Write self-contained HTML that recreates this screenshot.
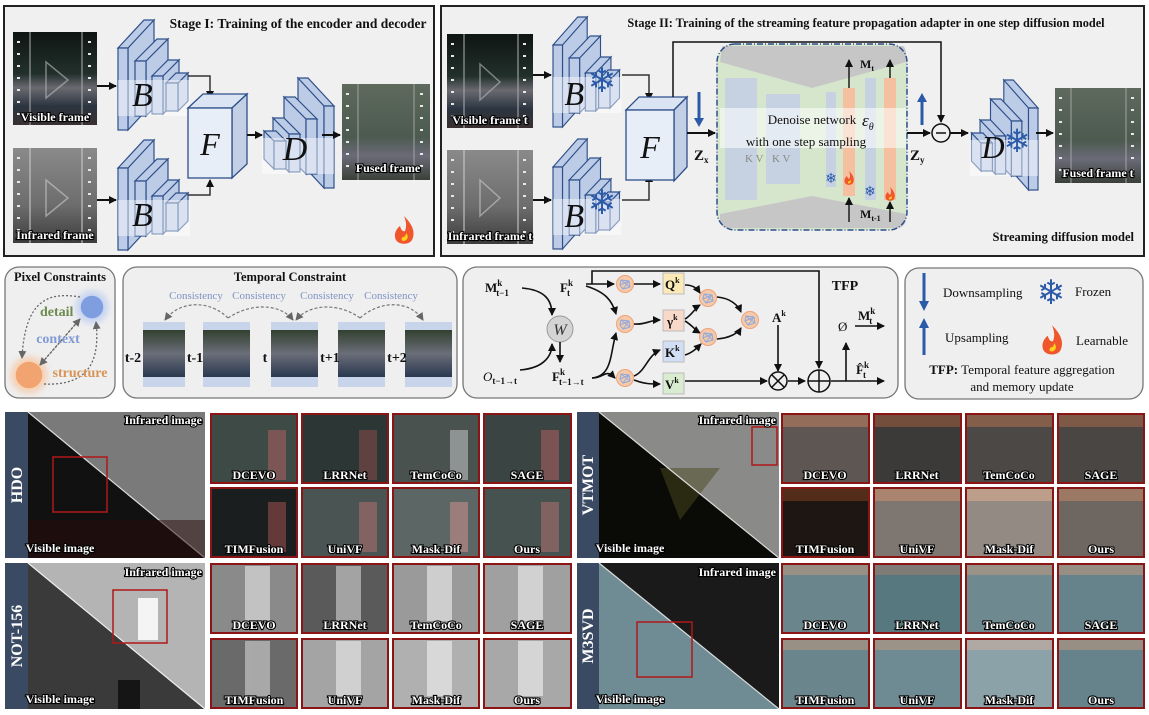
<!DOCTYPE html>
<html><head><meta charset="utf-8"><style>
html,body{margin:0;padding:0;background:#fff;}
svg{display:block;}
text{font-family:"Liberation Serif",serif;}
.t{font-weight:bold;fill:#111;}
.lbl{font-family:"Liberation Serif",serif;font-weight:bold;fill:#fff;stroke:#000;stroke-width:2.2px;paint-order:stroke;font-size:12px;text-anchor:middle;}
.lr{text-anchor:end;}
.bar{font-family:"Liberation Serif",serif;font-weight:bold;fill:#fff;font-size:16px;text-anchor:middle;}
</style></head><body>
<svg width="1149" height="715" viewBox="0 0 1149 715" xmlns="http://www.w3.org/2000/svg">
<defs>
<marker id="ah" markerWidth="8" markerHeight="8" refX="7" refY="4" orient="auto" markerUnits="userSpaceOnUse"><path d="M0,0 L8,4 L0,8 z" fill="#111"/></marker>
<marker id="ahg" markerWidth="8" markerHeight="8" refX="7" refY="4" orient="auto" markerUnits="userSpaceOnUse"><path d="M0,0 L8,4 L0,8 z" fill="#666"/></marker>
<linearGradient id="vis" x1="0" y1="0" x2="0" y2="1"><stop offset="0" stop-color="#0e1512"/><stop offset="0.45" stop-color="#22302c"/><stop offset="0.6" stop-color="#6a6a70"/><stop offset="0.8" stop-color="#2a3440"/><stop offset="1" stop-color="#3a3030"/></linearGradient>
<linearGradient id="ir" x1="0" y1="0" x2="0" y2="1"><stop offset="0" stop-color="#8a8a8a"/><stop offset="0.6" stop-color="#6d6d6d"/><stop offset="1" stop-color="#3d3d3d"/></linearGradient>
<linearGradient id="fus" x1="0" y1="0" x2="0" y2="1"><stop offset="0" stop-color="#5e6a5c"/><stop offset="0.55" stop-color="#4c5a50"/><stop offset="0.75" stop-color="#6b6b78"/><stop offset="1" stop-color="#3a4038"/></linearGradient>
<linearGradient id="tf" x1="0" y1="0" x2="0" y2="1"><stop offset="0" stop-color="#334030"/><stop offset="0.5" stop-color="#6a6e78"/><stop offset="1" stop-color="#2a3850"/></linearGradient>
<filter id="glow" x="-30%" y="-30%" width="160%" height="160%"><feGaussianBlur stdDeviation="3"/></filter>
<g id="enc">
 <g fill="#bccbe6" stroke="#2d4f8a" stroke-width="1.2">
 <path d="M0,30 l26,-28 l10,0 l-26,28 z M10,30 l26,-28 l0,82 l-26,28 z"/><rect x="0" y="30" width="10" height="82"/>
 <path d="M17,43 l22,-22 l11,0 l-22,22 z M28,43 l22,-22 l0,55 l-22,22 z"/><rect x="17" y="43" width="11" height="55"/>
 <path d="M34,58 l16,-16 l11,0 l-16,16 z M45,58 l16,-16 l0,38 l-16,16 z"/><rect x="34" y="58" width="11" height="38"/>
 <path d="M48,65 l10,-10 l12,0 l-10,10 z M60,65 l10,-10 l0,28 l-10,10 z"/><rect x="48" y="65" width="12" height="28"/>
 </g>
 <rect x="0" y="62" width="72" height="36" fill="#fff" opacity="0.45"/>
</g>
<g id="fl" fill="#e8e8e8">
 <rect x="2" y="5" width="3" height="2"/><rect x="2" y="17" width="3" height="2"/><rect x="2" y="29" width="3" height="2"/><rect x="2" y="41" width="3" height="2"/><rect x="2" y="53" width="3" height="2"/><rect x="2" y="65" width="3" height="2"/><rect x="2" y="77" width="3" height="2"/>
</g>
<g id="fire"><path d="M0,-14 C8,-6 12,2 8,10 C5,15 -5,15 -8,10 C-11,4 -7,-2 -4,-4 C-3,0 -1,2 1,1 C3,-4 2,-9 0,-14 z" fill="#f0562c"/><path d="M2,3 C5,6 4,10 0,11 C-3,11 -3,8 -1,7 C1,7 2,5 2,3 z" fill="#ffd21c"/></g>
<g id="net"><circle r="8.5" fill="#f6c9a8" stroke="#eea27a"/><path d="M-4,-4 L4,-3 L5,3 L-2,5 L-5,1 z M-4,-4 L5,3 M4,-3 L-2,5 M-5,1 L4,-3" fill="none" stroke="#8eaadf" stroke-width="1"/></g>
</defs>

<!-- STAGE I -->
<rect x="4" y="6" width="430" height="250" fill="#f0f0f0" stroke="#222" stroke-width="2"/>
<text x="298" y="28" class="t" font-size="13.5" text-anchor="middle">Stage I: Training of the encoder and decoder</text>
<rect x="13" y="32" width="84" height="93" fill="url(#vis)"/>
<line x1="30" y1="32" x2="30" y2="125" stroke="#aaa" stroke-width="1.5" opacity=".7"/><line x1="82" y1="32" x2="82" y2="125" stroke="#aaa" stroke-width="1.5" opacity=".7"/>
<use href="#fl" x="15" y="36"/><use href="#fl" x="86" y="36"/>
<path d="M46,62 L68,80 L46,98 z" fill="none" stroke="#bbb" stroke-width="1.5" opacity=".6"/>
<text x="55" y="121" class="lbl">Visible frame</text>
<rect x="13" y="148" width="84" height="95" fill="url(#ir)"/>
<line x1="30" y1="148" x2="30" y2="243" stroke="#ccc" stroke-width="1.5" opacity=".7"/><line x1="82" y1="148" x2="82" y2="243" stroke="#ccc" stroke-width="1.5" opacity=".7"/>
<use href="#fl" x="15" y="152"/><use href="#fl" x="86" y="152"/>
<path d="M46,180 L68,198 L46,216 z" fill="none" stroke="#ccc" stroke-width="1.5" opacity=".6"/>
<text x="55" y="239" class="lbl">Infrared frame</text>
<line x1="97" y1="86" x2="116" y2="86" stroke="#111" stroke-width="2" marker-end="url(#ah)"/>
<line x1="97" y1="200" x2="116" y2="200" stroke="#111" stroke-width="2" marker-end="url(#ah)"/>
<g transform="translate(118,18)"><use href="#enc"/><text x="14" y="88" font-size="34" font-style="italic" fill="#111">B</text></g>
<g transform="translate(118,138)"><use href="#enc"/><text x="14" y="88" font-size="34" font-style="italic" fill="#111">B</text></g>
<polyline points="188,76 210,76 210,98" fill="none" stroke="#333" stroke-width="1.5" marker-end="url(#ah)"/>
<polyline points="188,195 210,195 210,180" fill="none" stroke="#333" stroke-width="1.5" marker-end="url(#ah)"/>
<g fill="#e8eef8" stroke="#2d4f8a" stroke-width="1.3">
<path d="M188,108 l15,-14 l44,0 l-15,14 z" fill="#dbe4f3"/><path d="M232,108 l15,-14 l0,70 l-15,14 z" fill="#c3cfe4"/><rect x="188" y="108" width="44" height="70"/></g>
<text x="210" y="155" font-size="32" font-style="italic" text-anchor="middle" fill="#111">F</text>
<line x1="247" y1="135" x2="262" y2="135" stroke="#111" stroke-width="2" marker-end="url(#ah)"/>
<g transform="translate(334,76) scale(-1,1)"><use href="#enc"/></g>
<text x="295" y="160" font-size="34" font-style="italic" text-anchor="middle" fill="#111">D</text>
<line x1="322" y1="135" x2="340" y2="135" stroke="#111" stroke-width="2" marker-end="url(#ah)"/>
<rect x="342" y="84" width="88" height="96" fill="url(#fus)"/>
<line x1="358" y1="84" x2="358" y2="180" stroke="#aaa" opacity=".6" stroke-width="1.5"/><line x1="414" y1="84" x2="414" y2="180" stroke="#aaa" opacity=".6" stroke-width="1.5"/>
<use href="#fl" x="344" y="88"/><use href="#fl" x="418" y="88"/>
<text x="388" y="172" class="lbl">Fused frame</text>
<use href="#fire" x="404" y="230"/>

<!-- STAGE II -->
<rect x="441" y="6" width="703" height="250" fill="#f0f0f0" stroke="#222" stroke-width="2"/>
<text x="866" y="27" class="t" font-size="12.3" text-anchor="middle">Stage II: Training of the streaming feature propagation adapter in one step diffusion model</text>
<rect x="447" y="34" width="86" height="94" fill="url(#vis)"/>
<line x1="464" y1="34" x2="464" y2="128" stroke="#aaa" stroke-width="1.5" opacity=".7"/><line x1="518" y1="34" x2="518" y2="128" stroke="#aaa" stroke-width="1.5" opacity=".7"/>
<use href="#fl" x="449" y="38"/><use href="#fl" x="521" y="38"/>
<path d="M480,64 L500,82 L480,100 z" fill="none" stroke="#bbb" stroke-width="1.5" opacity=".6"/>
<text x="490" y="124" class="lbl">Visible frame t</text>
<rect x="447" y="150" width="86" height="94" fill="url(#ir)"/>
<line x1="464" y1="150" x2="464" y2="244" stroke="#ccc" stroke-width="1.5" opacity=".7"/><line x1="518" y1="150" x2="518" y2="244" stroke="#ccc" stroke-width="1.5" opacity=".7"/>
<use href="#fl" x="449" y="154"/><use href="#fl" x="521" y="154"/>
<path d="M480,180 L500,198 L480,216 z" fill="none" stroke="#ccc" stroke-width="1.5" opacity=".6"/>
<text x="490" y="240" class="lbl">Infrared frame t</text>
<line x1="533" y1="75" x2="551" y2="75" stroke="#111" stroke-width="2" marker-end="url(#ah)"/>
<line x1="533" y1="200" x2="551" y2="200" stroke="#111" stroke-width="2" marker-end="url(#ah)"/>
<g transform="translate(553,15) scale(0.95,1)"><use href="#enc"/><text x="12" y="90" font-size="34" font-style="italic" fill="#111">B</text></g>
<text x="602" y="92" font-size="34" fill="#2b5aa8" text-anchor="middle" font-family="DejaVu Sans">❄</text>
<g transform="translate(553,137) scale(0.95,1)"><use href="#enc"/><text x="12" y="90" font-size="34" font-style="italic" fill="#111">B</text></g>
<text x="602" y="214" font-size="34" fill="#2b5aa8" text-anchor="middle" font-family="DejaVu Sans">❄</text>
<polyline points="622,75 649,75 649,100" fill="none" stroke="#333" stroke-width="1.5" marker-end="url(#ah)"/>
<polyline points="622,200 649,200 649,175" fill="none" stroke="#333" stroke-width="1.5" marker-end="url(#ah)"/>
<g stroke="#2d4f8a" stroke-width="1.3">
<path d="M626,110 l13,-13 l48,0 l-13,13 z" fill="#dbe4f3"/><path d="M674,110 l13,-13 l0,70 l-13,14 z" fill="#c3cfe4"/><rect x="626" y="110" width="48" height="70" fill="#e8eef8"/></g>
<text x="650" y="158" font-size="32" font-style="italic" text-anchor="middle" fill="#111">F</text>
<polyline points="673,97 673,42 941,42 941,122" fill="none" stroke="#111" stroke-width="1.5" marker-end="url(#ah)"/>
<line x1="687" y1="133" x2="715" y2="133" stroke="#111" stroke-width="2" marker-end="url(#ah)"/>
<text x="694" y="160" font-size="15" font-weight="bold" fill="#111">Z<tspan font-size="9" dy="3">x</tspan></text>
<line x1="699" y1="92" x2="699" y2="120" stroke="#2b5aa8" stroke-width="3"/><path d="M694,118 L704,118 L699,127 z" fill="#2b5aa8"/>
<rect x="717" y="44" width="190" height="186" rx="18" fill="#d6e6cc"/>
<path d="M722,46 L902,46 Q906,46 906,56 L906,62 L812,88 L720,62 Z" fill="#c6c6c6"/>
<path d="M720,214 L812,196 L906,214 L906,218 Q906,228 896,228 L728,228 Q720,228 720,220 Z" fill="#c6c6c6"/>
<rect x="725" y="78" width="32" height="122" fill="#c6d2e2"/>
<rect x="766" y="94" width="34" height="90" fill="#c6d2e2"/>
<rect x="826" y="92" width="10" height="95" fill="#c6d2e2"/>
<rect x="843" y="88" width="12" height="108" fill="#f4c0a0"/>
<rect x="865" y="78" width="11" height="122" fill="#c6d2e2"/>
<rect x="884" y="78" width="12" height="122" fill="#f4c0a0"/>
<rect x="720" y="108" width="186" height="40" fill="#fff" opacity="0.55"/>
<text x="745" y="162" font-size="11" fill="#888">K  V</text>
<text x="772" y="162" font-size="11" fill="#888">K  V</text>
<text x="812" y="124" font-size="13" text-anchor="middle" fill="#111">Denoise network</text>
<text x="806" y="146" font-size="13" text-anchor="middle" fill="#111">with one step sampling</text>
<text x="862" y="126" font-size="17" font-style="italic" fill="#111">ε<tspan font-size="10" dy="4">θ</tspan></text>
<rect x="717" y="44" width="190" height="186" rx="18" fill="none" stroke="#2d4f8a" stroke-width="1.5" stroke-dasharray="6 2 1 2"/>
<line x1="849" y1="88" x2="849" y2="60" stroke="#111" stroke-width="1.4" marker-end="url(#ah)"/>
<line x1="890" y1="78" x2="890" y2="60" stroke="#111" stroke-width="1.4" marker-end="url(#ah)"/>
<text x="860" y="68" font-size="12" font-weight="bold" fill="#111">M<tspan font-size="8" dy="3">t</tspan></text>
<line x1="849" y1="222" x2="849" y2="198" stroke="#111" stroke-width="1.4" marker-end="url(#ah)"/>
<line x1="890" y1="222" x2="890" y2="202" stroke="#111" stroke-width="1.4" marker-end="url(#ah)"/>
<text x="860" y="218" font-size="12" font-weight="bold" fill="#111">M<tspan font-size="8" dy="3">t-1</tspan></text>
<text x="831" y="183" font-size="14" fill="#2b5aa8" text-anchor="middle" font-family="DejaVu Sans">❄</text>
<g transform="translate(849,178) scale(0.5)"><use href="#fire"/></g>
<text x="870" y="196" font-size="14" fill="#2b5aa8" text-anchor="middle" font-family="DejaVu Sans">❄</text>
<g transform="translate(890,194) scale(0.5)"><use href="#fire"/></g>
<line x1="907" y1="133" x2="930" y2="133" stroke="#111" stroke-width="2" marker-end="url(#ah)"/>
<text x="910" y="160" font-size="15" font-weight="bold" fill="#111">Z<tspan font-size="9" dy="3">y</tspan></text>
<line x1="922" y1="125" x2="922" y2="100" stroke="#2b5aa8" stroke-width="3"/><path d="M917,102 L927,102 L922,93 z" fill="#2b5aa8"/>
<circle cx="941" cy="133" r="9" fill="#f0f0f0" stroke="#111" stroke-width="1.5"/><line x1="936" y1="133" x2="946" y2="133" stroke="#111" stroke-width="1.5"/>
<line x1="950" y1="133" x2="968" y2="133" stroke="#111" stroke-width="2" marker-end="url(#ah)"/>
<g transform="translate(1038,78) scale(-0.95,1)"><use href="#enc"/></g>
<text x="993" y="158" font-size="32" font-style="italic" text-anchor="middle" fill="#111">D</text>
<text x="1017" y="152" font-size="32" fill="#2b5aa8" text-anchor="middle" font-family="DejaVu Sans">❄</text>
<line x1="1036" y1="133" x2="1053" y2="133" stroke="#111" stroke-width="2" marker-end="url(#ah)"/>
<rect x="1055" y="88" width="86" height="95" fill="url(#fus)"/>
<line x1="1071" y1="88" x2="1071" y2="183" stroke="#aaa" opacity=".6" stroke-width="1.5"/><line x1="1126" y1="88" x2="1126" y2="183" stroke="#aaa" opacity=".6" stroke-width="1.5"/>
<use href="#fl" x="1057" y="92"/><use href="#fl" x="1129" y="92"/>
<text x="1098" y="177" class="lbl">Fused frame t</text>
<text x="1134" y="241" class="t" font-size="12.5" text-anchor="end">Streaming diffusion model</text>

<!-- PIXEL CONSTRAINTS -->
<rect x="5" y="267" width="110" height="131" rx="14" fill="#efefef" stroke="#777" stroke-width="1.3"/>
<text x="60" y="281" class="t" font-size="12.5" text-anchor="middle">Pixel Constraints</text>
<circle cx="92" cy="307" r="17" fill="#a9bfee" opacity=".5" filter="url(#glow)"/>
<circle cx="92" cy="307" r="12" fill="#7f9ee0" stroke="#c8d6f4" stroke-width="1.5"/>
<circle cx="29" cy="375" r="19" fill="#f5b88a" opacity=".5" filter="url(#glow)"/>
<circle cx="29" cy="375" r="14" fill="#f2a470" stroke="#fad2b4" stroke-width="1.5"/>
<g fill="none" stroke="#666" stroke-width="1.3" stroke-dasharray="2 2">
<path d="M80,297 C50,292 25,298 22,358" marker-end="url(#ahg)"/>
<path d="M40,365 L80,319" marker-end="url(#ahg)"/><path d="M80,319 L40,365" marker-end="url(#ahg)"/>
<path d="M44,384 C90,386 100,360 96,322" marker-end="url(#ahg)"/>
</g>
<text x="40" y="316" font-size="14" font-weight="bold" fill="#6d8b4f">detail</text>
<text x="58" y="343" font-size="14" font-weight="bold" fill="#7f9ad6" text-anchor="middle">context</text>
<text x="80" y="377" font-size="14" font-weight="bold" fill="#d89456" text-anchor="middle">structure</text>

<!-- TEMPORAL -->
<rect x="123" y="267" width="334" height="131" rx="14" fill="#efefef" stroke="#777" stroke-width="1.3"/>
<text x="290" y="281" class="t" font-size="12.5" text-anchor="middle">Temporal Constraint</text>
<g font-size="11" fill="#7f93c4" text-anchor="middle">
<text x="196" y="299">Consistency</text><text x="259" y="299">Consistency</text><text x="327" y="299">Consistency</text><text x="391" y="299">Consistency</text></g>
<g fill="none" stroke="#777" stroke-width="1.2" stroke-dasharray="3 2">
<path d="M228,318 C210,300 180,300 165,320" marker-end="url(#ahg)"/>
<path d="M228,318 C250,303 280,303 293,320" marker-end="url(#ahg)"/>
<path d="M360,318 C340,303 310,303 296,320" marker-end="url(#ahg)"/>
<path d="M360,318 C380,300 410,300 423,320" marker-end="url(#ahg)"/>
</g>
<g>
<rect x="143" y="322" width="42" height="65" fill="#c8d4ea"/><rect x="143" y="330" width="42" height="47" fill="url(#tf)"/>
<rect x="203" y="322" width="47" height="65" fill="#c8d4ea"/><rect x="203" y="330" width="47" height="47" fill="url(#tf)"/>
<rect x="271" y="322" width="47" height="65" fill="#c8d4ea"/><rect x="271" y="330" width="47" height="47" fill="url(#tf)"/>
<rect x="338" y="322" width="47" height="65" fill="#c8d4ea"/><rect x="338" y="330" width="47" height="47" fill="url(#tf)"/>
<rect x="405" y="322" width="47" height="65" fill="#c8d4ea"/><rect x="405" y="330" width="47" height="47" fill="url(#tf)"/>
</g>
<g font-size="14" font-weight="bold" fill="#111" text-anchor="middle">
<text x="133" y="362">t-2</text><text x="195" y="362">t-1</text><text x="265" y="362">t</text><text x="330" y="362">t+1</text><text x="397" y="362">t+2</text></g>

<!-- TFP -->
<rect x="463" y="267" width="435" height="131" rx="14" fill="#efefef" stroke="#777" stroke-width="1.3"/>
<text x="845" y="290" class="t" font-size="14" text-anchor="middle">TFP</text>
<g font-size="13" font-weight="bold" fill="#111">
<text x="485" y="292">M<tspan font-size="9" dy="-6">k</tspan><tspan font-size="9" dx="-6" dy="10">t−1</tspan></text>
<text x="560" y="292">F<tspan font-size="9" dy="-6">k</tspan><tspan font-size="9" dx="-6" dy="10">t</tspan></text>
<text x="483" y="381" font-style="italic" font-weight="normal">O<tspan font-size="9" font-style="normal" font-weight="bold" dy="3">t−1→t</tspan></text>
<text x="552" y="381">F<tspan font-size="9" dy="-6">k</tspan><tspan font-size="9" dx="-6" dy="10">t−1→t</tspan></text>
</g>
<circle cx="560" cy="329" r="13" fill="#d4d4d4" stroke="#999"/>
<text x="560" y="335" font-size="16" font-style="italic" text-anchor="middle" fill="#333">W</text>
<g fill="none" stroke="#111" stroke-width="1.6">
<path d="M522,288 C545,290 552,300 552,315" marker-end="url(#ah)"/>
<path d="M520,370 C545,368 552,355 552,344" marker-end="url(#ah)"/>
<line x1="560" y1="342" x2="560" y2="362" marker-end="url(#ah)"/>
<line x1="586" y1="284" x2="614" y2="284" marker-end="url(#ah)"/>
<path d="M586,286 C605,292 612,300 616,314" marker-end="url(#ah)"/>
<path d="M592,378 C605,378 605,368 615,378" marker-end="url(#ah)"/>
<path d="M592,378 C612,376 610,355 616,333" marker-end="url(#ah)"/>
<line x1="634" y1="284" x2="660" y2="284" marker-end="url(#ah)"/>
<path d="M634,324 C645,325 650,320 660,320" marker-end="url(#ah)"/>
<path d="M634,376 C645,372 648,355 660,350" marker-end="url(#ah)"/>
<path d="M634,380 C645,384 650,384 660,384" marker-end="url(#ah)"/>
<path d="M685,285 C695,285 698,290 700,293" marker-end="url(#ah)"/>
<path d="M685,319 C692,315 695,308 700,305" marker-end="url(#ah)"/>
<path d="M685,321 C692,325 695,330 700,333" marker-end="url(#ah)"/>
<path d="M685,355 C692,353 697,348 701,344" marker-end="url(#ah)"/>
<path d="M717,297 C730,298 738,305 741,312" marker-end="url(#ah)"/>
<path d="M717,339 C730,338 738,333 741,328" marker-end="url(#ah)"/>
<line x1="778" y1="325" x2="778" y2="371" marker-end="url(#ah)"/>
<line x1="685" y1="381" x2="767" y2="381" marker-end="url(#ah)"/>
<line x1="788" y1="381" x2="805" y2="381" marker-end="url(#ah)"/>
<polyline points="592,284 592,271 819,271 819,368" marker-end="url(#ah)"/>
<line x1="831" y1="381" x2="884" y2="381" marker-end="url(#ah)"/>
<line x1="846" y1="381" x2="846" y2="343" marker-end="url(#ah)"/>
<line x1="855" y1="326" x2="884" y2="326" marker-end="url(#ah)"/>
</g>
<use href="#net" x="625" y="284"/><use href="#net" x="625" y="324"/><use href="#net" x="625" y="378"/>
<use href="#net" x="708" y="298"/><use href="#net" x="708" y="337"/><use href="#net" x="750" y="320"/>
<rect x="663" y="273" width="21" height="21" fill="#fbe9b7" stroke="#bbb"/>
<rect x="663" y="310" width="21" height="21" fill="#f8d8c8" stroke="#bbb"/>
<rect x="663" y="341" width="21" height="21" fill="#d2def4" stroke="#bbb"/>
<rect x="663" y="373" width="21" height="21" fill="#d9ecd0" stroke="#bbb"/>
<g font-size="13" font-weight="bold" fill="#111">
<text x="665" y="289">Q<tspan font-size="8" dy="-6">k</tspan></text>
<text x="667" y="326">γ<tspan font-size="8" dy="-6">k</tspan></text>
<text x="665" y="357">K<tspan font-size="8" dy="-6">k</tspan></text>
<text x="665" y="389">V<tspan font-size="8" dy="-6">k</tspan></text>
<text x="772" y="322">A<tspan font-size="8" dy="-6">k</tspan></text>
<text x="858" y="320">M<tspan font-size="9" dy="-6">k</tspan><tspan font-size="9" dx="-6" dy="10">t</tspan></text>
<text x="856" y="374">F̂<tspan font-size="9" dy="-6">k</tspan><tspan font-size="9" dx="-6" dy="10">t</tspan></text>
<text x="838" y="331" font-weight="normal">Ø</text>
</g>
<circle cx="778" cy="381" r="9" fill="#efefef" stroke="#111" stroke-width="1.5"/><path d="M772,375 L784,387 M784,375 L772,387" stroke="#111" stroke-width="1.5"/>
<circle cx="819" cy="381" r="11" fill="#efefef" stroke="#111" stroke-width="1.5"/><path d="M808,381 L830,381 M819,370 L819,392" stroke="#111" stroke-width="1.5"/>

<!-- LEGEND -->
<rect x="905" y="268" width="238" height="131" rx="14" fill="#efefef" stroke="#777" stroke-width="1.3"/>
<line x1="924" y1="273" x2="924" y2="303" stroke="#2b5aa8" stroke-width="3"/><path d="M919,301 L929,301 L924,311 z" fill="#2b5aa8"/>
<line x1="924" y1="355" x2="924" y2="326" stroke="#2b5aa8" stroke-width="3"/><path d="M919,328 L929,328 L924,318 z" fill="#2b5aa8"/>
<g font-size="13" fill="#111">
<text x="943" y="297">Downsampling</text><text x="945" y="342">Upsampling</text>
<text x="1075" y="296">Frozen</text><text x="1076" y="345">Learnable</text>
<text x="1022" y="374" text-anchor="middle"><tspan font-weight="bold">TFP:</tspan> Temporal feature aggregation</text>
<text x="1022" y="391" text-anchor="middle">and memory update</text></g>
<text x="1051" y="304" font-size="34" fill="#2b5aa8" text-anchor="middle" font-family="DejaVu Sans">❄</text>
<g transform="translate(1052,340) scale(1.05)"><use href="#fire"/></g>

<!-- BOTTOM LEFT -->
<rect x="5" y="412" width="23" height="146" fill="#3b4a63"/>
<text class="bar" transform="translate(22,485) rotate(-90)">HDO</text>
<rect x="28" y="412" width="177" height="146" fill="#111"/>
<path d="M28,412 L205,412 L205,558 Z" fill="#7a7a7a"/>
<path d="M28,412 L205,558" stroke="#ddd" stroke-width="1.2"/>
<rect x="28" y="520" width="177" height="38" fill="#2a0a0a" opacity=".5"/>
<rect x="53" y="457" width="54" height="55" fill="none" stroke="#b01818" stroke-width="1.5"/>
<text x="202" y="424" class="lbl lr" font-size="11">Infrared image</text>
<text x="60" y="552" class="lbl" font-size="11">Visible image</text>

<rect x="5" y="563" width="23" height="146" fill="#3b4a63"/>
<text class="bar" transform="translate(22,636) rotate(-90)">NOT-156</text>
<rect x="28" y="563" width="177" height="146" fill="#3a3a3a"/>
<path d="M28,563 L205,563 L205,709 Z" fill="#b4b4b4"/>
<path d="M28,563 L205,709" stroke="#eee" stroke-width="1.2"/>
<rect x="138" y="598" width="20" height="42" fill="#f4f4f4"/>
<rect x="118" y="680" width="22" height="29" fill="#151515"/>
<rect x="113" y="590" width="54" height="53" fill="none" stroke="#b01818" stroke-width="1.5"/>
<text x="202" y="576" class="lbl lr" font-size="11">Infrared image</text>
<text x="60" y="703" class="lbl" font-size="11">Visible image</text>

<!-- BOTTOM RIGHT -->
<rect x="577" y="412" width="22" height="146" fill="#3b4a63"/>
<text class="bar" transform="translate(593,485) rotate(-90)">VTMOT</text>
<rect x="599" y="412" width="180" height="146" fill="#0a0a06"/>
<path d="M599,412 L779,412 L779,558 Z" fill="#8a8a88"/>
<path d="M660,468 L720,468 L680,520 Z" fill="#4a4a20" opacity=".5"/>
<path d="M599,412 L779,558" stroke="#ddd" stroke-width="1.2"/>
<rect x="752" y="427" width="25" height="38" fill="none" stroke="#b01818" stroke-width="1.5"/>
<text x="776" y="424" class="lbl lr" font-size="11">Infrared image</text>
<text x="630" y="552" class="lbl" font-size="11">Visible image</text>

<rect x="577" y="563" width="22" height="146" fill="#3b4a63"/>
<text class="bar" transform="translate(593,636) rotate(-90)">M3SVD</text>
<rect x="599" y="563" width="180" height="146" fill="#6f8c94"/>
<path d="M599,563 L779,563 L779,709 Z" fill="#1a1a1a"/>
<path d="M599,563 L779,709" stroke="#ddd" stroke-width="1.2"/>
<rect x="637" y="622" width="55" height="55" fill="none" stroke="#b01818" stroke-width="1.5"/>
<text x="776" y="576" class="lbl lr" font-size="11">Infrared image</text>
<text x="630" y="703" class="lbl" font-size="11">Visible image</text>

<!-- thumbnails -->
<g stroke="#8b1414" stroke-width="2">
<rect x="211" y="414" width="86" height="69" fill="#3e4a46"/><rect x="302" y="414" width="86" height="69" fill="#2c3634"/><rect x="393" y="414" width="86" height="69" fill="#4a5250"/><rect x="484" y="414" width="87" height="69" fill="#3a4442"/>
<rect x="211" y="488" width="86" height="69" fill="#1a1e1e"/><rect x="302" y="488" width="86" height="69" fill="#4a5452"/><rect x="393" y="488" width="86" height="69" fill="#5c6664"/><rect x="484" y="488" width="87" height="69" fill="#465250"/>
<rect x="211" y="564" width="86" height="69" fill="#8a8a8a"/><rect x="302" y="564" width="86" height="69" fill="#5a5a5a"/><rect x="393" y="564" width="86" height="69" fill="#9a9a9a"/><rect x="484" y="564" width="87" height="69" fill="#a0a0a0"/>
<rect x="211" y="639" width="86" height="69" fill="#6a6a6a"/><rect x="302" y="639" width="86" height="69" fill="#a4a4a4"/><rect x="393" y="639" width="86" height="69" fill="#b0b0b0"/><rect x="484" y="639" width="87" height="69" fill="#a8a8a8"/>
<rect x="782" y="414" width="87" height="69" fill="#5e5652"/><rect x="874" y="414" width="87" height="69" fill="#3c3a38"/><rect x="966" y="414" width="87" height="69" fill="#4c4846"/><rect x="1058" y="414" width="86" height="69" fill="#4a4644"/>
<rect x="782" y="488" width="87" height="69" fill="#1e1612"/><rect x="874" y="488" width="87" height="69" fill="#7e7670"/><rect x="966" y="488" width="87" height="69" fill="#948a84"/><rect x="1058" y="488" width="86" height="69" fill="#6e6660"/>
<rect x="782" y="564" width="87" height="69" fill="#6a858c"/><rect x="874" y="564" width="87" height="69" fill="#587880"/><rect x="966" y="564" width="87" height="69" fill="#6e8a90"/><rect x="1058" y="564" width="86" height="69" fill="#66828a"/>
<rect x="782" y="639" width="87" height="69" fill="#6a858c"/><rect x="874" y="639" width="87" height="69" fill="#6e8a92"/><rect x="966" y="639" width="87" height="69" fill="#8aa2a8"/><rect x="1058" y="639" width="86" height="69" fill="#66828a"/>
</g>
<g opacity=".55">
<rect x="268" y="430" width="18" height="50" fill="#b06060"/><rect x="359" y="430" width="18" height="50" fill="#8a4a4a"/><rect x="450" y="430" width="18" height="50" fill="#c8c8c8"/><rect x="541" y="430" width="18" height="50" fill="#b06060"/>
<rect x="268" y="502" width="18" height="50" fill="#a05050"/><rect x="359" y="502" width="18" height="50" fill="#b07070"/><rect x="450" y="502" width="18" height="50" fill="#d09090"/><rect x="541" y="502" width="18" height="50" fill="#b07070"/>
<rect x="245" y="566" width="25" height="55" fill="#f0f0f0"/><rect x="336" y="566" width="25" height="55" fill="#e0e0e0"/><rect x="427" y="566" width="25" height="55" fill="#fafafa"/><rect x="518" y="566" width="25" height="55" fill="#fafafa"/>
<rect x="245" y="641" width="25" height="55" fill="#dcdcdc"/><rect x="336" y="641" width="25" height="55" fill="#f4f4f4"/><rect x="427" y="641" width="25" height="55" fill="#fafafa"/><rect x="518" y="641" width="25" height="55" fill="#fafafa"/>
<rect x="783" y="415" width="85" height="12" fill="#c08060"/><rect x="875" y="415" width="85" height="12" fill="#a06040"/><rect x="967" y="415" width="85" height="12" fill="#b07050"/><rect x="1059" y="415" width="84" height="12" fill="#a86a4a"/>
<rect x="783" y="489" width="85" height="12" fill="#804020"/><rect x="875" y="489" width="85" height="12" fill="#d09070"/><rect x="967" y="489" width="85" height="12" fill="#e0b090"/><rect x="1059" y="489" width="84" height="12" fill="#c08a6a"/>
<rect x="783" y="565" width="85" height="10" fill="#c09a80"/><rect x="875" y="565" width="85" height="10" fill="#a08070"/><rect x="967" y="565" width="85" height="10" fill="#c09a80"/><rect x="1059" y="565" width="84" height="10" fill="#c09a80"/>
<rect x="783" y="640" width="85" height="10" fill="#c09a80"/><rect x="875" y="640" width="85" height="10" fill="#c09a80"/><rect x="967" y="640" width="85" height="10" fill="#d0b0a0"/><rect x="1059" y="640" width="84" height="10" fill="#c09a80"/>
</g>
<g>
<text x="254" y="479" class="lbl" font-size="11">DCEVO</text><text x="345" y="479" class="lbl" font-size="11">LRRNet</text><text x="436" y="479" class="lbl" font-size="11">TemCoCo</text><text x="527" y="479" class="lbl" font-size="11">SAGE</text>
<text x="254" y="553" class="lbl" font-size="11">TIMFusion</text><text x="345" y="553" class="lbl" font-size="11">UniVF</text><text x="436" y="553" class="lbl" font-size="11">Mask-Dif</text><text x="527" y="553" class="lbl" font-size="11">Ours</text>
<text x="254" y="629" class="lbl" font-size="11">DCEVO</text><text x="345" y="629" class="lbl" font-size="11">LRRNet</text><text x="436" y="629" class="lbl" font-size="11">TemCoCo</text><text x="527" y="629" class="lbl" font-size="11">SAGE</text>
<text x="254" y="704" class="lbl" font-size="11">TIMFusion</text><text x="345" y="704" class="lbl" font-size="11">UniVF</text><text x="436" y="704" class="lbl" font-size="11">Mask-Dif</text><text x="527" y="704" class="lbl" font-size="11">Ours</text>
<text x="825" y="479" class="lbl" font-size="11">DCEVO</text><text x="917" y="479" class="lbl" font-size="11">LRRNet</text><text x="1009" y="479" class="lbl" font-size="11">TemCoCo</text><text x="1101" y="479" class="lbl" font-size="11">SAGE</text>
<text x="825" y="553" class="lbl" font-size="11">TIMFusion</text><text x="917" y="553" class="lbl" font-size="11">UniVF</text><text x="1009" y="553" class="lbl" font-size="11">Mask-Dif</text><text x="1101" y="553" class="lbl" font-size="11">Ours</text>
<text x="825" y="629" class="lbl" font-size="11">DCEVO</text><text x="917" y="629" class="lbl" font-size="11">LRRNet</text><text x="1009" y="629" class="lbl" font-size="11">TemCoCo</text><text x="1101" y="629" class="lbl" font-size="11">SAGE</text>
<text x="825" y="704" class="lbl" font-size="11">TIMFusion</text><text x="917" y="704" class="lbl" font-size="11">UniVF</text><text x="1009" y="704" class="lbl" font-size="11">Mask-Dif</text><text x="1101" y="704" class="lbl" font-size="11">Ours</text>
</g>
</svg>
</body></html>
